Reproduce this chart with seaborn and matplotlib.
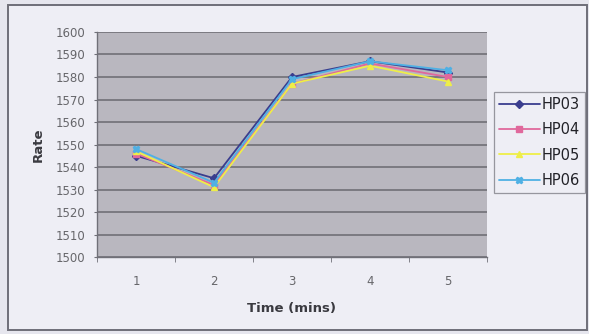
import matplotlib
matplotlib.use("Agg")
import matplotlib.pyplot as plt
import seaborn as sns
import pandas as pd
from matplotlib.patches import Rectangle

# Readings per sampling time
times = [1, 2, 3, 4, 5]
hp03 = [1545, 1535, 1580, 1587, 1582]
hp04 = [1546, 1532, 1577, 1586, 1580]
hp05 = [1547, 1531, 1577, 1585, 1578]
hp06 = [1548, 1533, 1579, 1587, 1583]
series_names = ["HP03", "HP04", "HP05", "HP06"]
y_ticks = list(range(1500, 1601, 10))

df = pd.DataFrame({
    "Time": times * 4,
    "Rate": hp03 + hp04 + hp05 + hp06,
    "Series": sum([[n] * len(times) for n in series_names], []),
})

sns.set_style("white")
plt.rcParams["font.family"] = ["DejaVu Sans"]

fig = plt.figure(figsize=(5.89, 3.34), dpi=100)
fig.patch.set_facecolor("#e6e6ee")

# chart frame, kept behind the axes
frame = Rectangle((0.014, 0.012), 0.982, 0.972, transform=fig.transFigure,
                  facecolor="#eeeef5", edgecolor="#6e6e78", linewidth=1.4, zorder=-5)
fig.add_artist(frame)

ax = fig.add_axes([0.1647, 0.2305, 0.662, 0.6737])
ax.set_zorder(2)
ax.set_facecolor("#b9b7bf")

palette = {"HP03": "#3a3d8e", "HP04": "#e0689c", "HP05": "#eeee48", "HP06": "#4fb0e4"}
markers = {"HP03": "D", "HP04": "s", "HP05": "^", "HP06": "X"}
sns.lineplot(data=df, x="Time", y="Rate", hue="Series", style="Series",
             palette=palette, markers=markers, dashes=False, markersize=4.5,
             markeredgewidth=1.0, linewidth=1.3, ax=ax)
for line in ax.get_lines():
    line.set_markeredgecolor(line.get_color())

ax.set_xlim(0.5, 5.5)
ax.set_ylim(1500, 1600)
ax.set_yticks(y_ticks)
ax.set_xticks(times)
ax.set_xticks([0.5, 1.5, 2.5, 3.5, 4.5, 5.5], minor=True)
ax.yaxis.grid(True, color="#6a6a70", linewidth=1.1)
ax.xaxis.grid(False)
ax.set_axisbelow(True)

for s in ["top", "right"]:
    ax.spines[s].set_visible(False)
for s in ["left", "bottom"]:
    ax.spines[s].set_color("#707078")
    ax.spines[s].set_linewidth(1.0)

ax.tick_params(axis="y", which="major", length=2.5, color="#707078",
               labelsize=8.5, labelcolor="#66666a", pad=6, left=True)
ax.tick_params(axis="x", which="major", length=0, labelsize=8.5,
               labelcolor="#66666a", pad=13)
ax.tick_params(axis="x", which="minor", length=3.5, color="#707078", bottom=True)

ax.set_xlabel("Time (mins)", fontsize=9.5, fontweight="bold", color="#3a3a40", labelpad=10)
ax.set_ylabel("Rate", fontsize=9.5, fontweight="bold", color="#3a3a40", labelpad=8)

leg = ax.legend(loc="upper left", bbox_to_anchor=(1.018, 0.733), borderaxespad=0,
                frameon=True, fontsize=10.5, handlelength=2.8, labelspacing=0.7,
                borderpad=0.35, handletextpad=0.15, fancybox=False)
leg.get_frame().set_edgecolor("#808088")
leg.get_frame().set_facecolor("#eeeef5")
leg.get_frame().set_linewidth(0.9)
for t in leg.get_texts():
    t.set_color("#222228")

fig.savefig("out.png", dpi=100, facecolor=fig.get_facecolor())
